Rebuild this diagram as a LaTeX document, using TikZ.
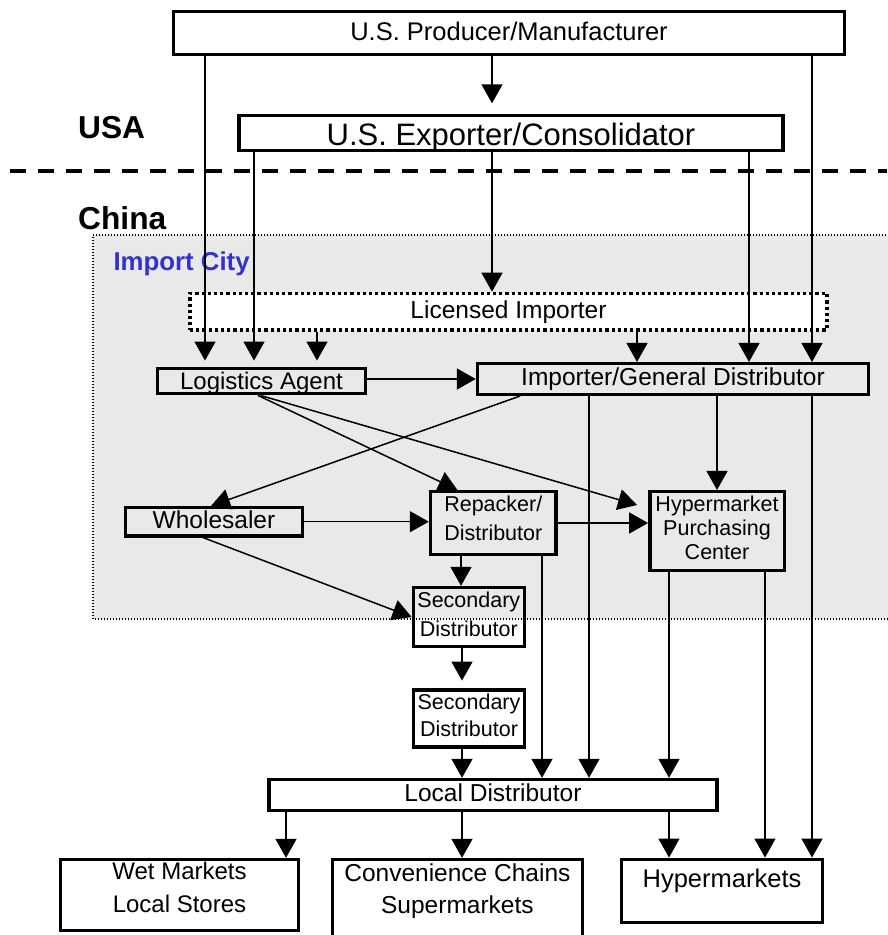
\documentclass[tikz,border=0pt]{standalone}
\usepackage{fontspec}
\setmainfont{Liberation Sans}
\usetikzlibrary{arrows.meta}
\definecolor{regiongray}{RGB}{233,233,233}
\definecolor{cityblue}{RGB}{51,51,204}
\newcommand{\dstrut}[1]{\rule[-#1]{0pt}{#1}}
\begin{document}
\begin{tikzpicture}[x=1pt,y=-1pt,
  box/.style={draw, line width=3.4pt, rectangle, inner sep=0pt, align=center,
    font=\fontsize{24.5}{30}\selectfont},
  smallbox/.style={box, font=\fontsize{21.5}{29}\selectfont},
  lbl/.style={anchor=base west, inner sep=0pt, font=\fontsize{31.7}{36}\selectfont\bfseries},
  arr/.style={line width=1.5pt, -{Triangle[length=19pt,width=21pt]}},
  ]
\useasboundingbox (0,0) rectangle (887,935);
% region
\fill[regiongray] (93,235) rectangle (892,619);
\draw[line width=1.1pt, dash pattern=on 1pt off 2pt] (892,235) -- (93,235) -- (93,619) -- (892,619);
% dashed border line
\draw[line width=3.8pt, dash pattern=on 16pt off 12pt] (10,171) -- (887,171);
% labels
\node[lbl] (usa) at (78,138.3) {USA};
\node[lbl] (china) at (78,229) {China};
\node[anchor=base west, inner sep=0pt, text=cityblue, font=\fontsize{25.8}{30}\selectfont\bfseries] (city) at (113.3,270.7) {Import City};
% boxes
\node[box, minimum width=671pt, minimum height=43pt, text height=20pt, text depth=6pt, font=\fontsize{25.5}{30}\selectfont] (prod) at (509,33) {U.S. Producer/Manufacturer};
\node[box, minimum width=544pt, minimum height=35pt, text height=28pt, text depth=4pt, font=\fontsize{31}{36}\selectfont] (exp) at (511,133) {U.S. Exporter/Consolidator};
\node[box, fill=white, line width=3.6pt, dash pattern=on 3.2pt off 3pt, minimum width=637pt, minimum height=36.5pt, text height=18.6pt, text depth=6pt] (li) at (508.5,311.7) {Licensed Importer};
\node[box, minimum width=208pt, minimum height=25.5pt, text height=18pt, text depth=2pt, font=\fontsize{24}{30}\selectfont] (la) at (261.5,381) {Logistics Agent};
\node[box, minimum width=391pt, minimum height=30.7pt, text height=17pt, text depth=5pt] (igd) at (673,379) {Importer/General Distributor};
\node[box, minimum width=177pt, minimum height=28.3pt, text height=18.2pt, text depth=5pt] (wh) at (214,521.7) {Wholesaler};
\node[smallbox, minimum width=125.6pt, minimum height=63pt] (rep) at (493.3,523) {Repacker/\\Distributor\dstrut{9.3pt}};
\node[smallbox, font=\fontsize{21.5}{24.2}\selectfont, minimum width=134.4pt, minimum height=78.7pt] (hpc) at (717,531) {Hypermarket\\Purchasing\\Center\dstrut{6pt}};
\node[smallbox, minimum width=111pt, minimum height=59pt] (sd1) at (468.8,617) {Secondary\\Distributor\dstrut{5.7pt}};
\node[smallbox, font=\fontsize{21.5}{26.7}\selectfont, minimum width=111pt, minimum height=57pt] (sd2) at (469,718.3) {Secondary\\Distributor\dstrut{5.6pt}};
\node[box, minimum width=448pt, minimum height=31pt, text height=17pt, text depth=5pt] (ld) at (493,795) {Local Distributor};
\node[box, font=\fontsize{24}{33}\selectfont, minimum width=238pt, minimum height=71pt] (wet) at (179.5,895) {Wet Markets\\Local Stores\dstrut{15pt}};
\node[box, font=\fontsize{24.5}{31.6}\selectfont, minimum width=249.7pt, minimum height=84pt] (conv) at (457.4,901.5) {Convenience Chains\\Supermarkets\dstrut{26pt}};
\node[box, font=\fontsize{25.5}{30}\selectfont, minimum width=201pt, minimum height=63.5pt, text height=20pt, text depth=28pt] (hyp) at (722,891) {Hypermarkets};
% connectors from the top
\draw[arr, shorten >=10.5pt] (492,0 |- prod.south) -- (492,0 |- exp.north);
\draw[arr, shorten >=6pt] (205,0 |- prod.south) -- (205,0 |- la.north);
\draw[arr] (812,0 |- prod.south) -- (812,0 |- igd.north);
\draw[arr, shorten >=6pt] (254,0 |- exp.south) -- (254,0 |- la.north);
\draw[arr] (492,0 |- exp.south) -- (492,0 |- li.north);
\draw[arr] (749,0 |- exp.south) -- (749,0 |- igd.north);
\draw[arr, shorten >=6pt] (317,0 |- li.south) -- (317,0 |- la.north);
\draw[arr] (637,0 |- li.south) -- (637,0 |- igd.north);
\draw[arr] (igd.west -| la.east) -- (igd.west);
% diagonals
\draw[arr] ([xshift=-3.5pt]la.south) -- ([xshift=-36pt]rep.north);
\draw[arr] ([xshift=-1pt]la.south) -- ([xshift=-11pt,yshift=26pt]hpc.west);
\draw[arr] ([xshift=-153pt]igd.south) -- ([xshift=-3pt]wh.north);
\draw[arr] ([xshift=-11pt]wh.south) -- (sd1.west);
\draw[arr] (wh.east) -- (wh.east -| rep.west);
\draw[arr] (rep.east) -- (rep.east -| hpc.west);
% verticals
\draw[arr] (461,0 |- rep.south) -- (461,0 |- sd1.north);
\draw[arr, shorten >=7.5pt] (462,0 |- sd1.south) -- (462,0 |- sd2.north);
\draw[arr] (462,0 |- sd2.south) -- (462,0 |- ld.north);
\draw[arr] (542,0 |- rep.south) -- (542,0 |- ld.north);
\draw[arr] (589,0 |- igd.south) -- (589,0 |- ld.north);
\draw[arr] (717,0 |- igd.south) -- (717,0 |- hpc.north);
\draw[arr] (669,0 |- hpc.south) -- (669,0 |- ld.north);
\draw[arr] (765,0 |- hpc.south) -- (765,0 |- hyp.north);
\draw[arr] (812,0 |- igd.south) -- (812,0 |- hyp.north);
\draw[arr] (286,0 |- ld.south) -- (286,0 |- wet.north);
\draw[arr] (462,0 |- ld.south) -- (462,0 |- conv.north);
\draw[arr] (669,0 |- ld.south) -- (669,0 |- hyp.north);
\end{tikzpicture}
\end{document}
